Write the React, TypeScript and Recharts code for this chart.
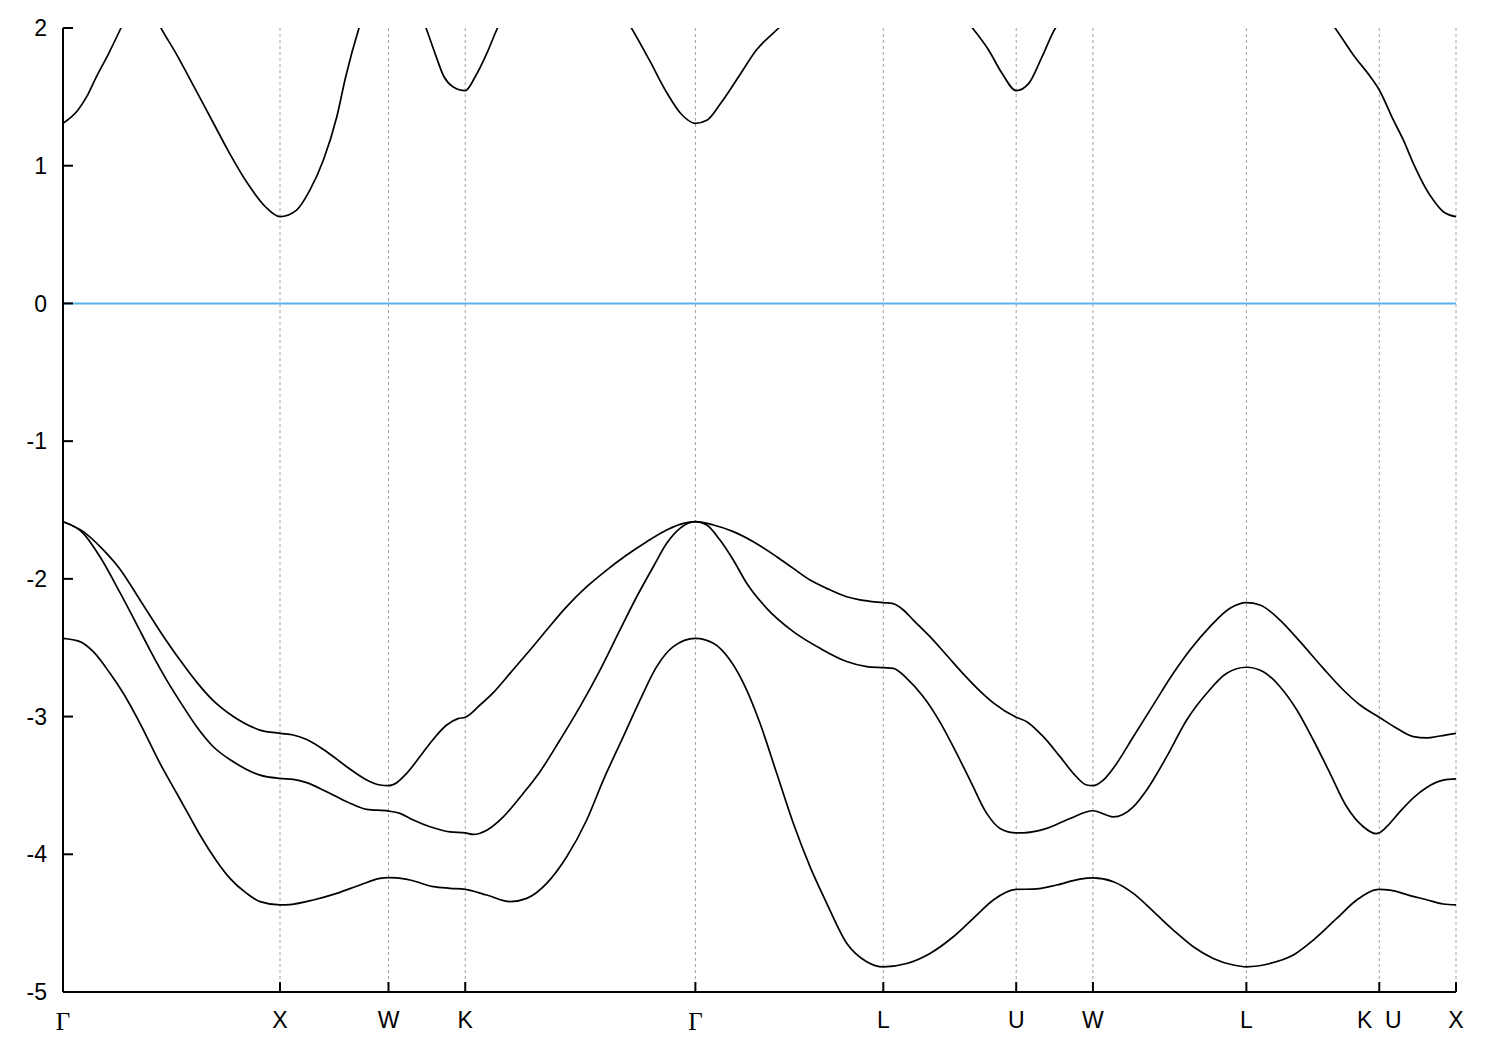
import React from 'react';
import { LineChart, Line, XAxis, YAxis, CartesianGrid, ReferenceLine } from 'recharts';

// high-symmetry path positions (FCC path lengths) and labels
const kTicks = [0, 1, 1.5, 1.8536, 2.9142, 3.7802, 4.3926, 4.7462, 5.4533, 6.0657, 6.4193];
const kLabels = ['Γ', 'X', 'W', 'K', 'Γ', 'L', 'U', 'W', 'L', 'K\u00a0\u00a0U', 'X'];
const eTicks = [-5, -4, -3, -2, -1, 0, 1, 2];

// conduction band (parts above 2 eV are clipped by the frame)
const cb: [number, number][] = [
  [0, 1.308], [0.0691, 1.405], [0.1106, 1.505], [0.1521, 1.64], [0.212, 1.82], [0.2673, 2.0],
  [0.3594, 2.3], [0.4516, 2.0], [0.5207, 1.816], [0.6037, 1.574], [0.6857, 1.332], [0.7677, 1.09],
  [0.8502, 0.872], [0.9327, 0.702], [1.0, 0.63], [1.0765, 0.678], [1.1382, 0.824], [1.2, 1.041],
  [1.2618, 1.356], [1.3028, 1.646], [1.3641, 2.0], [1.5, 2.5], [1.6728, 2.0], [1.7143, 1.816],
  [1.7558, 1.646], [1.7968, 1.574], [1.8536, 1.545], [1.8995, 1.646], [1.953, 1.816], [2.0023, 2.0],
  [2.3088, 2.6], [2.6194, 2.0], [2.7018, 1.768], [2.7839, 1.526], [2.8456, 1.381], [2.9142, 1.308],
  [2.9691, 1.332], [3.0309, 1.453], [3.1134, 1.646], [3.1954, 1.84], [3.2986, 2.0], [3.7802, 2.7],
  [4.1912, 2.0], [4.2654, 1.84], [4.3272, 1.671], [4.3926, 1.545], [4.4507, 1.598], [4.512, 1.792],
  [4.5737, 2.0], [5.2396, 2.8], [5.8618, 2.0], [5.9521, 1.792], [6.023, 1.65], [6.0657, 1.55],
  [6.1304, 1.332], [6.1765, 1.187], [6.2226, 1.017], [6.2843, 0.824], [6.3147, 0.751],
  [6.3608, 0.666], [6.4193, 0.63],
];

// top valence band
const vb1: [number, number][] = [
  [0, -1.585], [0.0935, -1.657], [0.1857, -1.79], [0.2627, -1.93], [0.3548, -2.153], [0.447, -2.38],
  [0.5392, -2.59], [0.6161, -2.75], [0.6926, -2.885], [0.7848, -3.0], [0.9078, -3.098], [1.0, -3.122],
  [1.0613, -3.134], [1.123, -3.166], [1.2152, -3.255], [1.3074, -3.364], [1.3995, -3.46],
  [1.4608, -3.497], [1.5, -3.502], [1.5378, -3.48], [1.5839, -3.412], [1.6452, -3.29],
  [1.6912, -3.194], [1.7682, -3.061], [1.8203, -3.015], [1.8536, -3.005], [1.9217, -2.916],
  [1.9829, -2.826], [2.0599, -2.686], [2.1521, -2.517], [2.229, -2.371], [2.3212, -2.202],
  [2.4134, -2.057], [2.5055, -1.936], [2.5977, -1.827], [2.6899, -1.73], [2.782, -1.645],
  [2.8585, -1.597], [2.9142, -1.585], [2.9972, -1.609], [3.0889, -1.657], [3.1811, -1.73],
  [3.2889, -1.839], [3.3654, -1.924], [3.4424, -2.008], [3.5194, -2.069], [3.6115, -2.13],
  [3.6728, -2.153], [3.7802, -2.173], [3.8249, -2.18], [3.8724, -2.226], [3.9184, -2.299],
  [3.9954, -2.42], [4.0724, -2.555], [4.1488, -2.69], [4.2258, -2.815], [4.2871, -2.9],
  [4.3926, -3.005], [4.441, -3.037], [4.5175, -3.146], [4.5945, -3.291], [4.6558, -3.412],
  [4.7175, -3.497], [4.7462, -3.502], [4.794, -3.461], [4.8558, -3.34], [4.9323, -3.146],
  [5.0244, -2.915], [5.1166, -2.686], [5.1935, -2.517], [5.2857, -2.347], [5.3779, -2.214],
  [5.4533, -2.173], [5.5161, -2.19], [5.6083, -2.299], [5.7005, -2.456], [5.8078, -2.65],
  [5.9, -2.807], [5.977, -2.916], [6.0657, -3.005], [6.1461, -3.085], [6.2226, -3.146],
  [6.2843, -3.155], [6.3456, -3.141], [6.4193, -3.122],
];

// second valence band
const vb2: [number, number][] = [
  [0, -1.585], [0.0935, -1.67], [0.1705, -1.84], [0.2627, -2.1], [0.3396, -2.33], [0.4009, -2.517],
  [0.4779, -2.735], [0.5544, -2.928], [0.6161, -3.074], [0.6926, -3.219], [0.7848, -3.328],
  [0.9078, -3.425], [1.0, -3.449], [1.0613, -3.456], [1.123, -3.48], [1.2152, -3.546],
  [1.3074, -3.618], [1.3995, -3.674], [1.5, -3.686], [1.553, -3.703], [1.6143, -3.751],
  [1.6912, -3.8], [1.7834, -3.837], [1.8536, -3.844], [1.8908, -3.856], [1.9525, -3.825],
  [2.029, -3.728], [2.1212, -3.557], [2.1982, -3.4], [2.2903, -3.17], [2.3825, -2.928],
  [2.4747, -2.662], [2.5668, -2.371], [2.6438, -2.13], [2.7203, -1.912], [2.782, -1.742],
  [2.8433, -1.633], [2.9142, -1.585], [2.9664, -1.609], [3.0276, -1.718], [3.0889, -1.863],
  [3.1507, -2.032], [3.2429, -2.214], [3.3654, -2.383], [3.4885, -2.504], [3.6115, -2.6],
  [3.7037, -2.637], [3.7802, -2.645], [3.8263, -2.65], [3.888, -2.722], [3.9645, -2.856],
  [4.0415, -3.04], [4.1028, -3.22], [4.1797, -3.461], [4.2567, -3.703], [4.318, -3.812],
  [4.3926, -3.844], [4.4253, -3.844], [4.5332, -3.812], [4.6406, -3.74], [4.7462, -3.684],
  [4.8401, -3.728], [4.9323, -3.655], [4.994, -3.533], [5.0862, -3.291], [5.1783, -3.025],
  [5.2705, -2.831], [5.3627, -2.686], [5.4533, -2.642], [5.5313, -2.674], [5.6083, -2.783],
  [5.6852, -2.95], [5.7618, -3.17], [5.8387, -3.412], [5.9157, -3.655], [5.9922, -3.8],
  [6.0507, -3.85], [6.0657, -3.844], [6.1, -3.8], [6.1613, -3.69], [6.2226, -3.59],
  [6.2843, -3.515], [6.3608, -3.462], [6.4193, -3.453],
];

// lowest valence band shown
const vb3: [number, number][] = [
  [0, -2.432], [0.0783, -2.456], [0.1396, -2.529], [0.2166, -2.686], [0.2779, -2.831], [0.3548, -3.049],
  [0.447, -3.34], [0.524, -3.557], [0.5853, -3.73], [0.6313, -3.86], [0.7083, -4.05],
  [0.7696, -4.175], [0.8465, -4.284], [0.9078, -4.344], [1.0, -4.368], [1.0461, -4.365],
  [1.1535, -4.332], [1.2613, -4.284], [1.3687, -4.223], [1.4608, -4.175], [1.5, -4.17],
  [1.5378, -4.172], [1.5991, -4.187], [1.7065, -4.235], [1.7834, -4.247], [1.8536, -4.255],
  [1.9525, -4.296], [2.0599, -4.344], [2.1369, -4.32], [2.229, -4.211], [2.3212, -4.018],
  [2.4134, -3.751], [2.4899, -3.461], [2.582, -3.146], [2.659, -2.88], [2.7359, -2.637],
  [2.8124, -2.492], [2.9142, -2.432], [2.9972, -2.468], [3.0737, -2.59], [3.1507, -2.808],
  [3.212, -3.049], [3.2889, -3.412], [3.3654, -3.775], [3.4424, -4.09], [3.5194, -4.356],
  [3.6115, -4.646], [3.7037, -4.78], [3.7802, -4.817], [3.888, -4.793], [3.9954, -4.72],
  [4.1028, -4.599], [4.2106, -4.441], [4.2871, -4.332], [4.3926, -4.255], [4.4714, -4.253],
  [4.5793, -4.223], [4.6866, -4.18], [4.7462, -4.172], [4.8401, -4.199], [4.9323, -4.284],
  [5.0244, -4.415], [5.1166, -4.55], [5.2088, -4.671], [5.3009, -4.756], [5.3931, -4.804],
  [5.4533, -4.817], [5.5622, -4.793], [5.6696, -4.732], [5.7618, -4.623], [5.8696, -4.466],
  [5.9618, -4.332], [6.0657, -4.255], [6.1152, -4.26], [6.2074, -4.3], [6.2843, -4.33],
  [6.3608, -4.361], [6.4193, -4.368],
];

const bands = [cb, vb1, vb2, vb3];
const toPts = (a: [number, number][]) => a.map(([k, e]) => ({ k, e }));

const SANS = '"Liberation Sans", Arial, Helvetica, sans-serif';
const SERIF = '"Liberation Serif", "Times New Roman", serif';
const FS = 23;

const XTick = (props: any) => {
  const { x, y, payload, index } = props;
  let i = kTicks.indexOf(payload?.value);
  if (i < 0) i = index ?? 0;
  const label = kLabels[i] ?? '';
  const isGamma = label === 'Γ';
  return (
    <text
      x={x}
      y={y}
      dy="0.71em"
      textAnchor="middle"
      fill="#000"
      fontSize={isGamma ? FS + 2 : FS}
      fontFamily={isGamma ? SERIF : SANS}
      style={{ whiteSpace: 'pre' }}
    >
      {label}
    </text>
  );
};

export default function App() {
  const domainK: [number, number] = [0, kTicks[kTicks.length - 1]];
  return (
    <div style={{ width: 1484, height: 1034, background: '#fff' }}>
      <LineChart width={1484} height={1034} margin={{ top: 20, right: 36, bottom: 10, left: 0 }}>
        <CartesianGrid horizontal={false} vertical stroke="#a0a0a0" strokeDasharray="3 3" strokeWidth={1} />
        <XAxis
          dataKey="k"
          type="number"
          domain={domainK}
          allowDataOverflow
          ticks={kTicks}
          interval={0}
          height={40}
          tickSize={-10}
          tickMargin={30}
          tick={<XTick />}
          axisLine={{ stroke: '#000', strokeWidth: 2 }}
          tickLine={{ stroke: '#000', strokeWidth: 2 }}
        />
        <XAxis
          xAxisId="top"
          orientation="top"
          dataKey="k"
          type="number"
          domain={domainK}
          allowDataOverflow
          ticks={kTicks}
          interval={0}
          height={0}
          tickSize={-10}
          tick={false}
          axisLine={{ stroke: '#000', strokeWidth: 2 }}
          tickLine={{ stroke: '#000', strokeWidth: 2 }}
        />
        <YAxis
          type="number"
          domain={[-5, 2]}
          allowDataOverflow
          ticks={eTicks}
          interval={0}
          width={55}
          tickSize={-10}
          tickMargin={26}
          tick={{ fill: '#000', fontSize: FS, fontFamily: SANS }}
          axisLine={{ stroke: '#000', strokeWidth: 2 }}
          tickLine={{ stroke: '#000', strokeWidth: 2 }}
        />
        <YAxis
          yAxisId="right"
          orientation="right"
          type="number"
          domain={[-5, 2]}
          allowDataOverflow
          ticks={eTicks}
          interval={0}
          width={0}
          tickSize={-10}
          tick={false}
          axisLine={{ stroke: '#000', strokeWidth: 2 }}
          tickLine={{ stroke: '#000', strokeWidth: 2 }}
        />
        <ReferenceLine y={0} stroke="#56b4e9" strokeWidth={2} />
        {bands.map((b, i) => (
          <Line
            key={i}
            data={toPts(b)}
            dataKey="e"
            type="monotone"
            stroke="#000"
            strokeWidth={1.7}
            dot={false}
            activeDot={false}
            isAnimationActive={false}
          />
        ))}
      </LineChart>
    </div>
  );
}
